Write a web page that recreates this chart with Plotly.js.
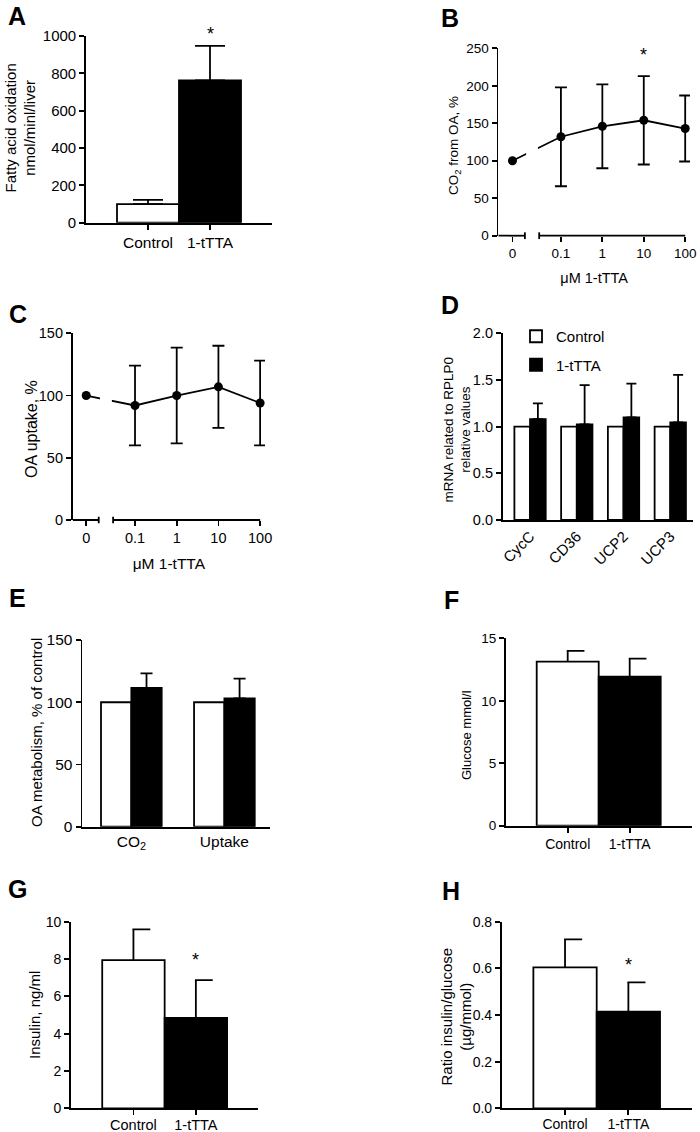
<!DOCTYPE html>
<html><head><meta charset="utf-8">
<script src="https://cdn.plot.ly/plotly-3.0.1.min.js"></script>
<style>html,body{margin:0;padding:0;background:#fff}#chart{width:700px;height:1132px}</style>
</head><body><div id="chart"></div>
<script>
// ---------------- data ----------------
const groups = ['Control', '1-tTTA'];

// A: fatty acid oxidation (nmol/min/liver)
const faoMean = [100, 762];
const faoSem = [22, 185];

// B / C: dose response (µM 1-tTTA)
const doseLabels = ['0', '0.1', '1', '10', '100'];
const doseValues = [0, 0.1, 1, 10, 100];
const co2Mean = [100, 132, 146, 154, 143];
const co2Sem = [null, 66, 56, 59, 44];
const uptakeMean = [100, 92, 100, 107, 94];
const uptakeSem = [null, 32, 38.5, 33, 34];

// D: mRNA relative to RPLP0
const genes = ['CycC', 'CD36', 'UCP2', 'UCP3'];
const mrnaControl = [1, 1, 1, 1];
const mrnaTTA = [1.08, 1.025, 1.10, 1.045];
const mrnaTTASem = [0.17, 0.42, 0.36, 0.51];

// E: OA metabolism, % of control
const oaCategories = ['CO<sub>2</sub>', 'Uptake'];
const oaControl = [100, 100];
const oaTTA = [111.5, 103];
const oaTTASem = [11.7, 16];

// F: glucose (mmol/l)
const glucoseMean = [13.13, 11.93];
const glucoseSem = [0.86, 1.44];

// G: insulin (ng/ml)
const insulinMean = [7.94, 4.85];
const insulinSem = [1.65, 2.02];

// H: insulin/glucose ratio
const ratioMean = [0.604, 0.414];
const ratioSem = [0.12, 0.126];

// ---------------- helpers ----------------
const W = 700, H = 1132;
const FONT = 'Liberation Sans, Arial, Helvetica, sans-serif';
const ZERO_POS = -2.17;           // axis position used for dose 0 (broken axis)
const BREAK = [-1.87, -1.525];    // broken-axis gap
const dosePos = d => d > 0 ? Math.log10(d) : ZERO_POS;
const xd = (a, b) => [a / W, b / W];
const yd = (top, bottom) => [1 - bottom / H, 1 - top / H];
const nan = a => a.map(v => v === null ? NaN : v);
const zeros = a => a.map(() => 0);

function pairBars(xa, ya, y, sem, cap) {
  return {
    type: 'bar', x: groups, y: y, xaxis: xa, yaxis: ya, width: 1,
    marker: {color: ['#ffffff', '#000000'], line: {color: '#000', width: 1.8}},
    error_y: {type: 'data', symmetric: false, array: sem, arrayminus: zeros(sem),
              color: '#000', thickness: 1.8, width: cap},
    showlegend: false, hoverinfo: 'skip'
  };
}
// right-pointing (one-sided) error-bar caps, as in the original panels F-H
function halfCaps(xa, ya, mean, sem) {
  return mean.map((m, i) => ({
    type: 'line', xref: xa, yref: ya, x0: i - 0.015, x1: i + 0.27,
    y0: m + sem[i], y1: m + sem[i], line: {color: '#000', width: 1.8}
  }));
}
function doseLine(xa, ya, y, sem) {
  return {
    type: 'scatter', mode: 'lines+markers', x: doseValues.map(dosePos), y: y,
    xaxis: xa, yaxis: ya,
    line: {color: '#000', width: 1.8},
    marker: {color: '#000', size: 9},
    error_y: {type: 'data', array: nan(sem), color: '#000', thickness: 1.8, width: 6},
    showlegend: false, hoverinfo: 'skip'
  };
}

const traces = [
  pairBars('x', 'y', faoMean, faoSem, 15),
  doseLine('x2', 'y2', co2Mean, co2Sem),
  doseLine('x3', 'y3', uptakeMean, uptakeSem),
  {type: 'bar', name: 'Control', legendgroup: 'c', x: genes, y: mrnaControl, xaxis: 'x4', yaxis: 'y4',
   width: 0.335, offset: -0.335,
   marker: {color: '#fff', line: {color: '#000', width: 1.8}}, hoverinfo: 'skip'},
  {type: 'bar', name: '1-tTTA', legendgroup: 't', x: genes, y: mrnaTTA, xaxis: 'x4', yaxis: 'y4',
   width: 0.335, offset: 0,
   marker: {color: '#000', line: {color: '#000', width: 1.8}},
   error_y: {type: 'data', symmetric: false, array: mrnaTTASem, arrayminus: zeros(mrnaTTASem),
             color: '#000', thickness: 1.8, width: 5}, hoverinfo: 'skip'},
  {type: 'bar', x: oaCategories, y: oaControl, xaxis: 'x5', yaxis: 'y5',
   width: 0.326, offset: -0.326, showlegend: false,
   marker: {color: '#fff', line: {color: '#000', width: 1.8}}, hoverinfo: 'skip'},
  {type: 'bar', x: oaCategories, y: oaTTA, xaxis: 'x5', yaxis: 'y5',
   width: 0.326, offset: 0, showlegend: false,
   marker: {color: '#000', line: {color: '#000', width: 1.8}},
   error_y: {type: 'data', symmetric: false, array: oaTTASem, arrayminus: zeros(oaTTASem),
             color: '#000', thickness: 1.8, width: 6}, hoverinfo: 'skip'},
  pairBars('x6', 'y6', glucoseMean, glucoseSem, 0),
  pairBars('x7', 'y7', insulinMean, insulinSem, 0),
  pairBars('x8', 'y8', ratioMean, ratioSem, 0)
];

function yAx(anchor, dom, range, dtick, fs, fmt) {
  return {
    anchor: anchor, domain: dom, range: range, dtick: dtick, tick0: 0,
    tickformat: fmt || '', showline: true, linecolor: '#000', linewidth: 1.8,
    ticks: 'outside', ticklen: 5, tickwidth: 1.8, tickcolor: '#000',
    showgrid: false, zeroline: false, fixedrange: true,
    tickfont: {size: fs, color: '#000'}, automargin: false
  };
}
function xCat(anchor, dom, range, fs, ticks, angle, lift) {
  return {
    anchor: anchor, domain: dom, range: range, type: 'category',
    showline: true, linecolor: '#000', linewidth: 1.8,
    ticks: ticks ? 'outside' : '', ticklen: 5, tickwidth: 1.8, tickcolor: '#000',
    ticklabelstandoff: lift || 0,
    showgrid: false, zeroline: false, fixedrange: true, tickangle: angle || 0,
    tickfont: {size: fs, color: '#000'}, automargin: false
  };
}
function xDose(anchor, dom, range, fs) {
  return {
    anchor: anchor, domain: dom, range: range, type: 'linear',
    showline: false, ticks: 'outside', ticklen: 5, tickwidth: 1.8, tickcolor: '#000',
    tickmode: 'array', tickvals: doseValues.map(dosePos), ticktext: doseLabels,
    showgrid: false, zeroline: false, fixedrange: true,
    tickfont: {size: fs, color: '#000'},
    title: {text: 'μM 1-tTTA', font: {size: fs + 1, color: '#000'}, standoff: 12},
    automargin: false
  };
}

function brokenAxisShapes(xa, ya, x0) {
  const yr = ya + ' domain';
  const ln = {color: '#000', width: 1.8};
  return [
    {type: 'rect', xref: xa, yref: yr, x0: BREAK[0] + 0.03, x1: BREAK[1] - 0.03, y0: 0.03, y1: 1,
     fillcolor: '#fff', line: {width: 0}, layer: 'above'},
    {type: 'line', xref: xa, yref: yr, x0: x0, x1: BREAK[0], y0: 0, y1: 0, line: ln},
    {type: 'line', xref: xa, yref: yr, x0: BREAK[1], x1: dosePos(100), y0: 0, y1: 0, line: ln},
    {type: 'line', xref: xa, yref: yr, x0: BREAK[0], x1: BREAK[0], y0: -0.018, y1: 0.018, line: ln},
    {type: 'line', xref: xa, yref: yr, x0: BREAK[1], x1: BREAK[1], y0: -0.018, y1: 0.018, line: ln}
  ];
}

function letter(t, x, y) {
  return {text: t, xref: 'paper', yref: 'paper', x: x / W, y: 1 - y / H,
          xanchor: 'center', yanchor: 'middle', showarrow: false,
          font: {size: 25, weight: 'bold', color: '#000', family: FONT}};
}
function ytitle(t, x, y, fs) {
  return {text: t, xref: 'paper', yref: 'paper', x: x / W, y: 1 - y / H,
          xanchor: 'center', yanchor: 'middle', textangle: -90, showarrow: false,
          font: {size: fs, color: '#000', family: FONT}};
}
function star(xa, ya, x, y, shift) {
  return {text: '*', xref: xa, yref: ya, x: x, y: y, yanchor: 'bottom', yshift: shift,
          showarrow: false, font: {size: 18, color: '#000', family: FONT}};
}

const layout = {
  width: W, height: H, margin: {l: 0, r: 0, t: 0, b: 0},
  paper_bgcolor: '#fff', plot_bgcolor: 'rgba(0,0,0,0)',
  font: {family: FONT, color: '#000'},
  barmode: 'overlay', showlegend: true,
  legend: {x: 516 / W, y: 1 - 320 / H, xanchor: 'left', yanchor: 'top',
           font: {size: 15, color: '#000'}, bgcolor: 'rgba(0,0,0,0)', tracegroupgap: 6},

  xaxis:  xCat('y',  xd(86, 272),     [-1, 2], 15.5, true),
  yaxis:  yAx('x',   yd(36, 222.7),   [0, 1000], 200, 15),

  xaxis2: xDose('y2', xd(498.3, 690), [-2.512, 2.116], 13.5),
  yaxis2: yAx('x2',  yd(48.3, 235.7), [0, 250], 50, 13.5),

  xaxis3: xDose('y3', xd(72.7, 265),  [-2.494, 2.117], 14.5),
  yaxis3: yAx('x3',  yd(333.3, 520),  [0, 150], 50, 14.5),

  xaxis4: xCat('y4', xd(502.7, 693),  [-0.585, 3.486], 15, false, -45),
  yaxis4: yAx('x4',  yd(333.3, 520),  [0, 2], 0.5, 14.5, '.1f'),

  xaxis5: xCat('y5', xd(82.3, 270),   [-0.527, 1.49], 15.5, false),
  yaxis5: yAx('x5',  yd(640, 826.7),  [0, 150], 50, 15.5),

  xaxis6: xCat('y6', xd(505.7, 691.7), [-1, 2], 14, true),
  yaxis6: yAx('x6',  yd(638.3, 825.7), [0, 15], 5, 13.5),

  xaxis7: xCat('y7', xd(71, 258.3),   [-1, 2], 14.5, true, 0, -3),
  yaxis7: yAx('x7',  yd(921.7, 1108.3), [0, 10], 2, 14),

  xaxis8: xCat('y8', xd(501.7, 691.7), [-1, 2], 14, true, 0, -3),
  yaxis8: yAx('x8',  yd(921.7, 1108.3), [0, 0.8], 0.2, 14, '.1f'),

  shapes: [].concat(
    brokenAxisShapes('x2', 'y2', -2.512), brokenAxisShapes('x3', 'y3', -2.494),
    halfCaps('x6', 'y6', glucoseMean, glucoseSem),
    halfCaps('x7', 'y7', insulinMean, insulinSem),
    halfCaps('x8', 'y8', ratioMean, ratioSem)
  ),

  annotations: [
    letter('A', 17, 16.5), letter('B', 450, 17.5), letter('C', 17.5, 314), letter('D', 450, 304.5),
    letter('E', 17, 597.5), letter('F', 451.5, 600), letter('G', 17, 889), letter('H', 451, 891),
    ytitle('Fatty acid oxidation<br>nmol/minl/liver', 19.5, 128, 15),
    ytitle('CO<sub>2</sub> from OA, %', 454, 146, 13.5),
    ytitle('OA uptake, %', 31, 429, 16),
    ytitle('mRNA related to RPLP0<br>relative values', 456.5, 430, 13.5),
    ytitle('OA metabolism, % of control', 36, 733, 15),
    ytitle('Glucose mmol/l', 466, 735, 13),
    ytitle('Insulin, ng/ml', 34, 1015, 15),
    ytitle('Ratio insulin/glucose<br>(µg/mmol)', 455.5, 1017, 15),
    star('x', 'y', groups[1], faoMean[1] + faoSem[1], 0),
    star('x2', 'y2', dosePos(doseValues[3]), co2Mean[3] + co2Sem[3], 9),
    star('x7', 'y7', groups[1], insulinMean[1] + insulinSem[1], 8),
    star('x8', 'y8', groups[1], ratioMean[1] + ratioSem[1], 5)
  ]
};

Plotly.newPlot('chart', traces, layout, {displayModeBar: false, staticPlot: true});
</script>
</body></html>
